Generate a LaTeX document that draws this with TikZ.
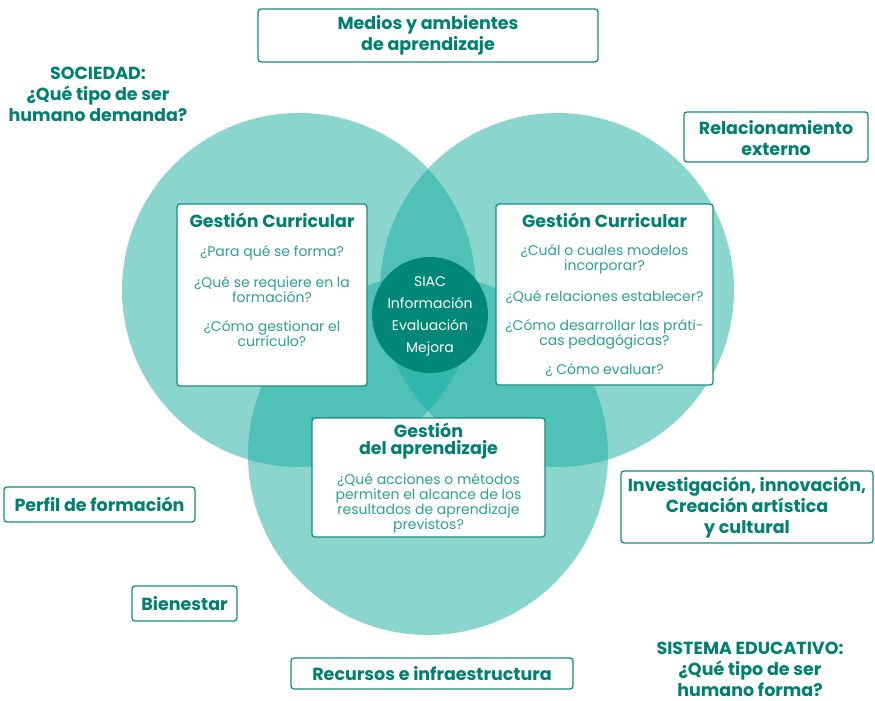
\documentclass[tikz,border=0pt]{standalone}
\usepackage{fontspec}
\setmainfont{Poppins}
\definecolor{tealfill}{RGB}{21,173,159}
\definecolor{tdark}{RGB}{0,128,112}
\definecolor{tbody}{RGB}{45,160,146}
\definecolor{tborder}{RGB}{22,140,125}
\definecolor{tcore}{RGB}{0,135,120}
\begin{document}
\begin{tikzpicture}[x=1pt,y=-1pt,
  box/.style={draw=tborder, line width=1.3pt, rounded corners=3pt, fill=white, inner sep=0pt},
  ttl/.style={text=tdark, font=\fontsize{17.5}{21}\selectfont\bfseries, align=center, inner sep=0pt},
  btl/.style={text=tdark, font=\fontsize{17.5}{16.5}\selectfont\bfseries, align=center, inner sep=0pt},
  body/.style={text=tbody, font=\fontsize{14}{15}\selectfont, align=center, inner sep=0pt},
  core/.style={text=white, font=\fontsize{14}{22}\selectfont, align=center, inner sep=0pt},
  venn/.style={fill=tealfill, fill opacity=0.5},
]
\useasboundingbox (0,0) rectangle (875,701);
% Venn circles
\fill[venn] (299,290) circle[radius=177];
\fill[venn] (557,290) circle[radius=177];
\fill[venn] (428,455) circle[radius=180];
% core circle
\node[circle, fill=tcore, minimum size=116pt, inner sep=0pt] (core) at (430,315) {};
\node[core] (coretxt) at (430,316.5) {SIAC\\Información\\Evaluación\\Mejora};

% inner boxes
\node[box, minimum width=190pt, minimum height=182pt] (lbox) at (272,295) {};
\node[btl] (ltitle) at (272,220) {Gestión Curricular};
\node[body] (lq1) at (272,252.5) {¿Para qué se forma?};
\node[body] (lq2) at (272,289.5) {¿Qué se requiere en la\\formación?};
\node[body] (lq3) at (272,333.5) {¿Cómo gestionar el\\currículo?};

\node[box, minimum width=217pt, minimum height=181pt] (rbox) at (604.5,294.5) {};
\node[btl] (rtitle) at (604.5,220) {Gestión Curricular};
\node[body] (rq1) at (604.5,259.5) {¿Cuál o cuales modelos\\incorporar?};
\node[body] (rq2) at (604.5,297.5) {¿Qué relaciones establecer?};
\node[body] (rq3) at (604.5,334.5) {¿Cómo desarrollar las práti-\\cas pedagógicas?};
\node[body] (rq4) at (604.5,370.5) {¿ Cómo evaluar?};

\node[box, minimum width=233pt, minimum height=119pt] (mbox) at (428.5,477.5) {};
\node[btl] (mtitle) at (428.5,441) {Gestión\\del aprendizaje};
\node[body] (mq1) at (428.5,503.5) {¿Qué acciones o métodos\\permiten el alcance de los\\resultados de aprendizaje\\previstos?};

% outer boxes
\node[box, minimum width=340pt, minimum height=53pt] (medios) at (428,35.5) {};
\node[ttl] (mediost) at (428,35.5) {Medios y ambientes\\de aprendizaje};
\node[box, minimum width=184pt, minimum height=50pt] (rel) at (776,137) {};
\node[ttl] (relt) at (776,138) {Relacionamiento\\externo};
\node[box, minimum width=252pt, minimum height=72pt] (inv) at (747,507) {};
\node[ttl] (invt) at (747,508) {Investigación, innovación,\\Creación artística\\y cultural};
\node[box, minimum width=191pt, minimum height=35pt] (perf) at (99.5,504.5) {};
\node[ttl] (perft) at (99.5,504) {Perfil de formación};
\node[box, minimum width=105pt, minimum height=35pt] (bien) at (184.5,603.5) {};
\node[ttl] (bient) at (184.5,604) {Bienestar};
\node[box, minimum width=282pt, minimum height=31pt] (rec) at (432,673.5) {};
\node[ttl] (rect) at (432,674) {Recursos e infraestructura};

% free labels
\node[ttl] (soc) at (98,94) {SOCIEDAD:\\¿Qué tipo de ser\\humano demanda?};
\node[ttl] (sis) at (750,669) {SISTEMA EDUCATIVO:\\¿Qué tipo de ser\\humano forma?};
\end{tikzpicture}
\end{document}
